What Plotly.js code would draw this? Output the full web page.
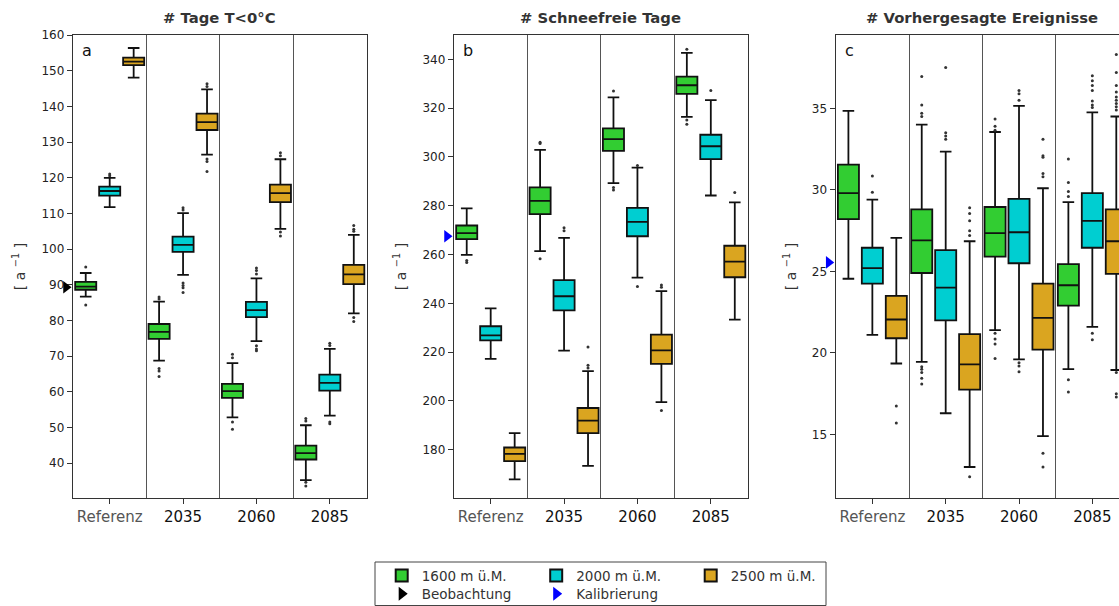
<!DOCTYPE html>
<html><head><meta charset="utf-8">
<script src="https://cdn.plot.ly/plotly-3.0.1.min.js"></script>
<style>html,body{margin:0;padding:0;overflow:hidden;background:#fff;width:1119px;height:606px}#wrap{width:1119px;height:606px;overflow:hidden;position:relative}#chart{position:absolute;left:0;top:0;width:1130px;height:606px}</style>
</head><body><div id="wrap"><div id="chart"></div></div><script>
// categories
const periods = ['Referenz', '2035', '2060', '2085'];
const periodLabels = ['<span style="color:#555">Referenz</span>', '2035', '2060', '2085'];
const elevations = ['1600 m ü.M.', '2000 m ü.M.', '2500 m ü.M.'];
const colors = ['#32CD32', '#00CED1', '#DAA520'];
const panelTitles = ['# Tage T<0°C', '# Schneefreie Tage', '# Vorhergesagte Ereignisse'];
const panelLetters = ['a', 'b', 'c'];

// Panel a: # Tage T<0°C  (lf, q1, median, q3, uf, outliers per period)
const frost_1600 = {lf:[86.7,68.7,52.8,35.2], q1:[88.6,74.8,58.3,41.0], med:[89.5,76.8,60.2,42.8], q3:[90.8,79.0,62.2,44.9], uf:[93.3,85.3,68.0,50.6],
  out:[[84.3,95.0],[86.0,86.6,66.5,65.8,64.3],[69.5,70.5,51.5,49.5],[51.8,52.5,34.6,33.6]]};
const frost_2000 = {lf:[111.8,92.8,74.2,53.3], q1:[115.0,99.2,80.9,60.3], med:[116.3,101.2,82.9,62.5], q3:[117.5,103.5,85.2,64.8], uf:[120.0,110.1,91.8,72.0],
  out:[[120.6,121.1],[111.0,111.6,90.5,89.8,89.2,87.8],[93.0,94.0,94.7,72.9,72.0,71.5],[73.0,73.6,51.5,51.0]]};
const frost_2500 = {lf:[148.1,126.5,105.7,82.0], q1:[151.6,133.4,113.2,90.2], med:[152.6,135.6,115.7,92.9], q3:[153.7,138.0,118.1,95.6], uf:[156.4,144.8,125.2,104.0],
  out:[[],[145.6,146.4,125.3,124.6,121.8],[126.2,127.0,104.8,103.7],[105.0,105.6,106.6,80.8,79.7]]};
const frost_obs = 89.3;

// Panel b: # Schneefreie Tage
const snow_1600 = {lf:[259.9,261.4,289.3,316.4], q1:[266.3,276.6,302.5,325.9], med:[268.8,282.0,307.3,329.4], q3:[271.9,287.5,311.7,332.9], uf:[278.9,302.9,324.4,342.7],
  out:[[257.6,256.7],[305.5,306.0,258.3],[327.0,287.5,286.5],[344.2,315.2,313.4]]};
const snow_2000 = {lf:[217.2,220.6,250.5,284.2], q1:[224.8,237.1,267.5,299.1], med:[226.9,242.9,273.4,304.4], q3:[230.6,249.5,279.1,309.1], uf:[237.9,266.8,295.6,323.3],
  out:[[],[269.8,271.0],[296.5,246.9],[327.2]]};
const snow_2500 = {lf:[167.8,173.4,199.5,233.3], q1:[175.3,186.8,215.2,250.7], med:[178.3,191.9,220.7,257.1], q3:[180.9,197.1,227.2,263.6], uf:[186.8,212.2,245.0,281.4],
  out:[[],[213.5,214.6,222.1],[246.6,247.5,196.1],[285.4]]};
const snow_calib = 267.5;

// Panel c: # Vorhergesagte Ereignisse
const events_1600 = {lf:[24.55,19.45,21.4,19.0], q1:[28.2,24.9,25.9,22.9], med:[29.8,26.9,27.35,24.15], q3:[31.55,28.8,28.95,25.45], uf:[34.85,34.0,33.55,29.25],
  out:[[],[34.5,34.7,35.2,36.95,19.15,19.0,18.8,18.45,18.1],[33.65,33.9,34.35,21.2,20.85,20.55,19.65],[29.6,29.9,30.45,31.9,18.35,17.6]]};
const events_2000 = {lf:[21.1,16.3,19.6,21.6], q1:[24.25,22.0,25.5,26.45], med:[25.2,24.0,27.4,28.1], q3:[26.45,26.3,29.45,29.8], uf:[29.4,32.35,35.15,34.75],
  out:[[29.85,30.85],[33.1,33.3,33.5,37.5],[35.5,35.9,36.1,19.4,19.2,18.85],[35.05,35.2,35.45,36.1,36.4,36.7,37.0,21.2,20.8]]};
const events_2500 = {lf:[19.35,13.0,14.9,18.95], q1:[20.9,17.75,20.2,24.85], med:[22.05,19.3,22.15,26.85], q3:[23.5,21.15,24.25,28.8], uf:[27.05,26.85,30.1,34.5],
  out:[[16.75,15.7],[27.2,27.5,28.1,28.55,28.9,12.4],[30.8,31.0,32.0,32.1,33.1,13.85,13.0],[34.9,35.1,35.3,35.5,35.7,36.0,36.4,37.2,38.3,18.8,17.5,17.3]]};
const events_calib = 25.55;

const yRanges = [[30.2, 160.05], [160.2, 350], [11.1, 39.5]];
const yTicks = [[40,50,60,70,80,90,100,110,120,130,140,150,160], [180,200,220,240,260,280,300,320,340], [15,20,25,30,35]];

const panels = [
  {stats:[frost_1600, frost_2000, frost_2500], ref:frost_obs, refName:'Beobachtung', refColor:'#000000'},
  {stats:[snow_1600, snow_2000, snow_2500], ref:snow_calib, refName:'Kalibrierung', refColor:'#0000FF'},
  {stats:[events_1600, events_2000, events_2500], ref:events_calib, refName:'Kalibrierung', refColor:'#0000FF'}
];

const positions = periods.map((_, i) => i);
const traces = [];
panels.forEach((p, pi) => {
  const sfx = pi === 0 ? '' : String(pi + 1);
  p.stats.forEach((s, k) => {
    traces.push({
      type:'box', name:elevations[k], x:positions,
      q1:s.q1, median:s.med, q3:s.q3, lowerfence:s.lf, upperfence:s.uf,
      y:s.out.map((r, i) => r.length ? r : [s.med[i]]),
      boxpoints:'outliers', jitter:0, pointpos:0,
      fillcolor:colors[k], line:{color:'#111', width:1.8},
      marker:{color:'#333', size:3},
      whiskerwidth:0.55, offsetgroup:String(k),
      xaxis:'x'+sfx, yaxis:'y'+sfx,
      legendgroup:'e'+k, showlegend: pi === 0, legend:'legend',
      hoverinfo:'skip'
    });
  });
  // reference marker sits on a small helper axis just left of the panel frame
  traces.push({
    type:'scatter', mode:'markers', name:p.refName,
    x:[0], y:[p.ref], cliponaxis:false,
    marker:{symbol:'triangle-right', size:11, color:p.refColor},
    xaxis:'x'+(pi + 4), yaxis:'y'+sfx,
    showlegend: pi < 2, legend:'legend2', hoverinfo:'skip'
  });
});

const W = 1130, H = 606, ml = 40, mr = 1, mt = 35, mb = 108;
const pw = W - ml - mr;
const pxX = px => (px - ml) / pw;
const pxY = py => (H - mb - py) / (H - mt - mb);
const panelLeft = [73, 454, 835.7];
const domains = [[pxX(73), pxX(366.5)], [pxX(454), pxX(747.5)], [pxX(835.7), 1]];

const legendCommon = {orientation:'h', x:pxX(381.7), xanchor:'left', yanchor:'middle',
  font:{size:13.5, color:'#333'}, bgcolor:'rgba(0,0,0,0)', borderwidth:0,
  entrywidth:109.5, entrywidthmode:'pixels', traceorder:'normal', itemsizing:'constant'};

const layout = {
  width:W, height:H, margin:{l:ml, r:mr, t:mt, b:mb, autoexpand:false},
  paper_bgcolor:'#fff', plot_bgcolor:'rgba(0,0,0,0)',
  font:{family:'DejaVu Sans', color:'#222', size:12},
  boxmode:'group', boxgap:0.02, boxgroupgap:0.12,
  legend:Object.assign({}, legendCommon, {y:pxY(575.7)}),
  legend2:Object.assign({}, legendCommon, {y:pxY(594)}),
  shapes:[{type:'rect', xref:'paper', yref:'paper', x0:pxX(375), x1:pxX(826), y0:pxY(605.5), y1:pxY(562),
    line:{color:'#444', width:1}, fillcolor:'rgba(0,0,0,0)', layer:'below'}],
  annotations:[]
};

panels.forEach((p, pi) => {
  const sfx = pi === 0 ? '' : String(pi + 1);
  layout['xaxis'+sfx] = {
    domain:domains[pi], anchor:'y'+sfx, type:'linear', range:[-0.5, 3.5],
    tickmode:'array', tickvals:positions, ticktext:periodLabels,
    tickfont:{size:15, color:'#111'}, ticks:'outside', ticklen:5, tickcolor:'#333',
    showgrid:false, zeroline:false, showline:true, mirror:true, linecolor:'#333', linewidth:1.2,
    minor:{tickmode:'linear', tick0:0.5, dtick:1, showgrid:true, gridcolor:'#555', gridwidth:1, ticks:''},
    fixedrange:true
  };
  layout['yaxis'+sfx] = {
    domain:[0,1], anchor:'x'+sfx, range:yRanges[pi],
    tickmode:'array', tickvals:yTicks[pi], tickfont:{size:12, color:'#222'},
    ticks:'outside', ticklen:5, tickcolor:'#333',
    showgrid:false, zeroline:false, showline:true, mirror:true, linecolor:'#333', linewidth:1.2,
    title:{text:'[ a <sup>−1</sup> ]', font:{size:14, color:'#333'}, standoff:12},
    fixedrange:true
  };
  // helper axis for the reference marker (tip touches the frame)
  layout['xaxis'+(pi + 4)] = {
    domain:[pxX(panelLeft[pi] - 13), pxX(panelLeft[pi] - 1)], range:[-1, 1],
    anchor:'y'+sfx, visible:false, fixedrange:true
  };
  layout.annotations.push({
    text:'<b>'+panelTitles[pi].replace('<','&lt;')+'</b>', xref:'x'+sfx+' domain', yref:'y'+sfx+' domain',
    x:0.5, y:1, xanchor:'center', yanchor:'middle', yshift:18, showarrow:false,
    font:{size:14.8, color:'#333'}
  });
  layout.annotations.push({
    text:panelLetters[pi], xref:'x'+sfx+' domain', yref:'y'+sfx+' domain',
    x:0.024, y:1 - 16/463, xanchor:'left', yanchor:'middle', showarrow:false,
    font:{size:16, color:'#111'}
  });
});

Plotly.newPlot('chart', traces, layout, {displayModeBar:false, responsive:false, staticPlot:true});
</script></body></html>
